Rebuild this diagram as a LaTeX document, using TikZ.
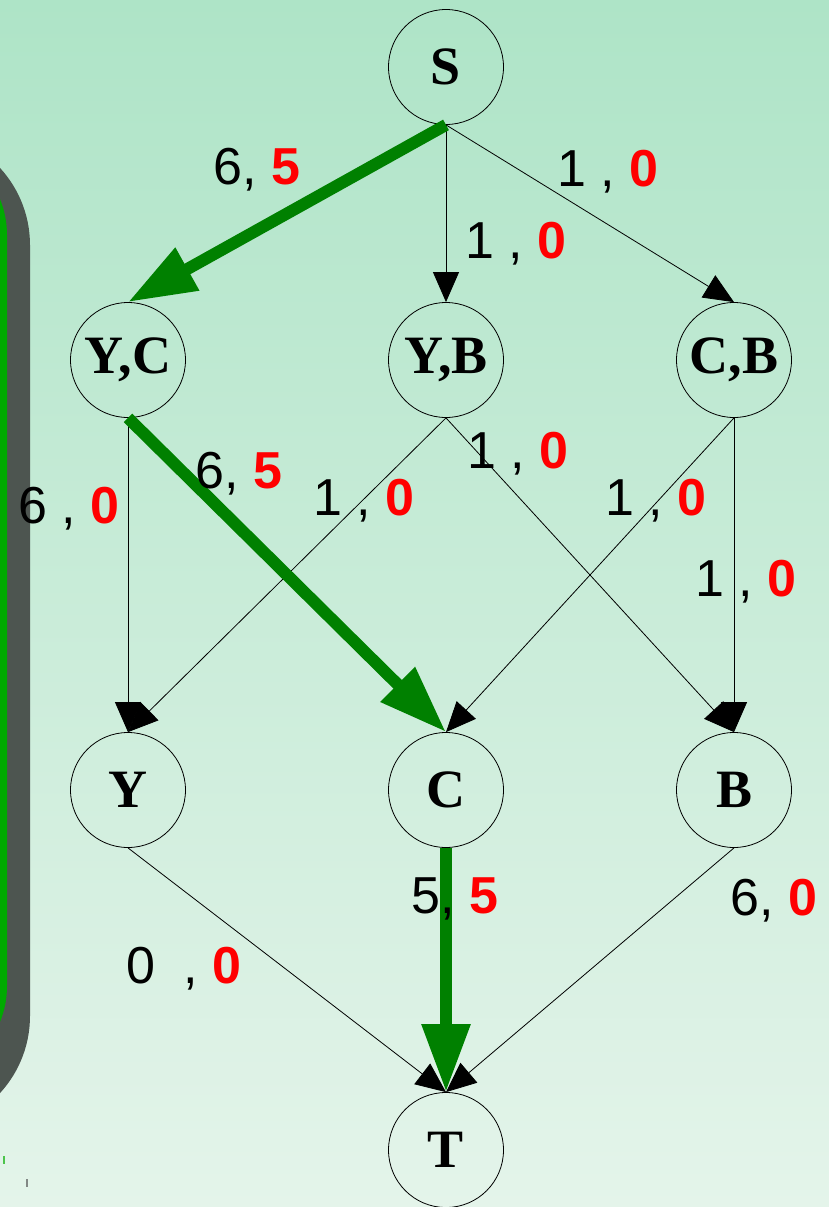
\documentclass[tikz,border=0pt]{standalone}
\usepackage{fontspec}
\setmainfont{Liberation Serif}
\newfontfamily\labfont{Liberation Sans}
\usetikzlibrary{arrows.meta}
\definecolor{bgtop}{RGB}{174,228,199}
\definecolor{bgbot}{RGB}{228,244,234}
\definecolor{flowgreen}{RGB}{0,128,0}
\definecolor{panelgray}{RGB}{77,85,80}
\definecolor{panelgreen}{RGB}{0,170,0}
\newcommand{\rv}[1]{\textcolor{red}{\bfseries #1}}
\tikzset{
  vert/.style={draw,circle,minimum size=115pt,inner sep=0pt,line width=.8pt,
    font=\fontsize{54}{60}\selectfont\bfseries},
  arc/.style={line width=.8pt,-{Triangle[length=30pt,width=26pt]}},
  flow/.style={flowgreen,line width=12pt,-{Triangle[length=68pt,width=46pt]}},
  lbl/.style={anchor=base west,inner sep=0pt,font=\labfont\fontsize{52}{60}\selectfont}
}
\begin{document}
\begin{tikzpicture}[x=1pt,y=-1pt]
  \useasboundingbox (0,0) rectangle (829,1207);
  \fill[top color=bgtop,bottom color=bgbot] (0,0) rectangle (829,1207);
  % panel on the left
  \fill[panelgray,rounded corners=114pt] (-250,131) rectangle (30,1130);
  \fill[panelgreen,rounded corners=95pt] (-250,140) rectangle (7,1081);
  \fill[panelgreen!70] (3,1156) rectangle (5,1164);
  \fill[panelgray!70] (26,1179) rectangle (28,1187);
  % vertices
  \node[vert] (S) at (446,67) {S};
  \node[vert] (YC) at (128,360) {Y,C};
  \node[vert] (YB) at (446,360) {Y,B};
  \node[vert] (CB) at (734,360) {C,B};
  \node[vert] (Y) at (128,790) {Y};
  \node[vert] (C) at (446,790) {C};
  \node[vert] (B) at (734,790) {B};
  \node[vert] (T) at (446,1150) {T};
  % edges
  \draw[arc] (S.south) -- (YB.north);
  \draw[arc] (S.south) -- (CB.north);
  \draw[arc] (YC.south) -- (Y.north);
  \draw[arc] (YB.south) -- (Y.north);
  \draw[arc] (YB.south) -- (B.north);
  \draw[arc] (CB.south) -- (C.north);
  \draw[arc] (CB.south) -- (B.north);
  \draw[arc] (Y.south) -- (T.north);
  \draw[arc] (B.south) -- (T.north);
  \draw[flow] (S.south) -- (YC.north);
  \draw[flow] (YC.south) -- (C.north);
  \draw[flow] (C.south) -- (T.north);
  % capacity , flow
  \node[lbl] (l-s-yc) at (213,184) {6, \rv{5}};
  \node[lbl] (l-s-yb) at (465,258) {1 , \rv{0}};
  \node[lbl] (l-s-cb) at (557,186) {1 , \rv{0}};
  \node[lbl] (l-yc-y) at (18,523) {6 , \rv{0}};
  \node[lbl] (l-yc-c) at (195,488) {6, \rv{5}};
  \node[lbl] (l-yb-y) at (313,515) {1 , \rv{0}};
  \node[lbl] (l-yb-b) at (467,468) {1 , \rv{0}};
  \node[lbl] (l-cb-c) at (605,515) {1 , \rv{0}};
  \node[lbl] (l-cb-b) at (695,596) {1 , \rv{0}};
  \node[lbl] (l-c-t) at (411,913) {5, \rv{5}};
  \node[lbl] (l-b-t) at (730,915) {6, \rv{0}};
  \node[lbl] (l-y-t) at (126,983) {0\ \ , \rv{0}};
\end{tikzpicture}
\end{document}
